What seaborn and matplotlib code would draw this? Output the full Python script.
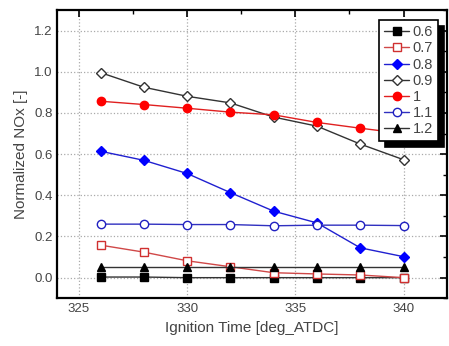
import pandas as pd
import seaborn as sns
import matplotlib.pyplot as plt
from matplotlib.ticker import MultipleLocator

sns.set_style('white')
plt.rcParams['font.family'] = ['Liberation Sans', 'DejaVu Sans']

# Ignition timing sweep, one series per lambda value
ign_time = [326, 328, 330, 332, 334, 336, 338, 340]
lambdas = ['0.6', '0.7', '0.8', '0.9', '1', '1.1', '1.2']
nox_06 = [0.003, 0.003, 0.0, 0.0, 0.0, 0.0, 0.0, 0.0]
nox_07 = [0.158, 0.124, 0.082, 0.053, 0.024, 0.018, 0.013, 0.0]
nox_08 = [0.614, 0.570, 0.506, 0.413, 0.323, 0.266, 0.145, 0.102]
nox_09 = [0.996, 0.925, 0.881, 0.849, 0.780, 0.736, 0.649, 0.573]
nox_10 = [0.857, 0.841, 0.823, 0.804, 0.791, 0.754, 0.726, 0.700]
nox_11 = [0.260, 0.260, 0.258, 0.258, 0.252, 0.255, 0.255, 0.253]
nox_12 = [0.053, 0.053, 0.053, 0.053, 0.053, 0.053, 0.053, 0.053]

series = [nox_06, nox_07, nox_08, nox_09, nox_10, nox_11, nox_12]
df = pd.DataFrame({
    'time': ign_time * len(lambdas),
    'nox': sum(series, []),
    'lam': [l for l in lambdas for _ in ign_time],
})

# line colour, marker, marker face, marker edge
styles = {
    '0.6': ('#333333', 's', 'black', 'black'),
    '0.7': ('#d04848', 's', 'white', '#d03030'),
    '0.8': ('#2020d0', 'D', 'blue', 'blue'),
    '0.9': ('#333333', 'D', 'white', '#333333'),
    '1': ('#e02020', 'o', 'red', 'red'),
    '1.1': ('#3030c0', 'o', 'white', '#2020c0'),
    '1.2': ('#333333', '^', 'black', 'black'),
}

fig = plt.figure(figsize=(4.49, 3.46), dpi=100)
ax = fig.add_axes([0.1276, 0.138, 0.8675, 0.833])

for lam in lambdas:
    c, m, fc, ec = styles[lam]
    sns.lineplot(data=df[df['lam'] == lam], x='time', y='nox', ax=ax,
                 color=c, marker=m, markerfacecolor=fc, markeredgecolor=ec,
                 markersize=6 if m != 'D' else 5.5, markeredgewidth=1,
                 linewidth=1, label=lam)

ax.set_xlim(324, 342)
ax.set_ylim(-0.1, 1.3)
ax.xaxis.set_major_locator(MultipleLocator(5))
ax.xaxis.set_minor_locator(MultipleLocator(2.5))
ax.yaxis.set_major_locator(MultipleLocator(0.2))
ax.yaxis.set_minor_locator(MultipleLocator(0.1))
ax.set_yticks([0.0, 0.2, 0.4, 0.6, 0.8, 1.0, 1.2])
ax.set_yticklabels(['0.0', '0.2', '0.4', '0.6', '0.8', '1.0', '1.2'])
ax.tick_params(which='both', direction='in', top=True, right=True,
               colors='black', labelcolor='#444444', labelsize=9.5)
ax.tick_params(which='major', length=5, width=1.2)
ax.tick_params(which='minor', length=3, width=1)
ax.grid(True, which='major', linestyle=':', color='#aaaaaa', linewidth=0.9)
for sp in ax.spines.values():
    sp.set_linewidth(1.6)
    sp.set_color('black')

ax.set_xlabel('Ignition Time [deg_ATDC]', fontsize=11, color='#444444')
ax.set_ylabel('Normalized NOx [-]', fontsize=11, color='#444444')

leg = ax.legend(loc='upper right', bbox_to_anchor=(0.985, 0.975), fontsize=10.5,
                fancybox=False, framealpha=1, edgecolor='black',
                handlelength=1.7, handletextpad=0.25, labelspacing=0.15,
                borderpad=0.35, borderaxespad=0.2,
                shadow={'color': 'black', 'alpha': 1, 'ox': 4, 'oy': -4})
leg.get_frame().set_linewidth(1.2)
for t in leg.get_texts():
    t.set_color('#444444')

plt.savefig('out.png', dpi=100)
plt.close()
